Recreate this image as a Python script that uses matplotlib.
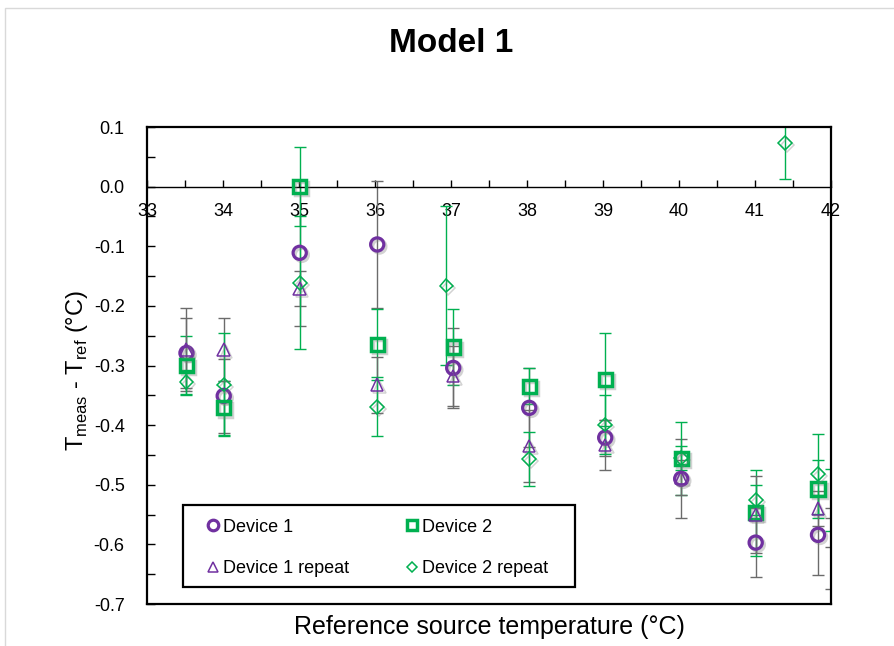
import matplotlib
matplotlib.use("Agg")
import matplotlib.pyplot as plt
import matplotlib.patheffects as pe
from matplotlib.lines import Line2D
from matplotlib.patches import Rectangle
from matplotlib.ticker import MultipleLocator, FuncFormatter
import numpy as np

plt.rcParams["font.family"] = ["Liberation Sans", "DejaVu Sans"]

# reference temperatures (last point lies just past the axis end, as in the original sheet)
x_dev = [33.52, 34.01, 35.01, 36.03, 37.03, 38.03, 39.03, 40.03, 41.01, 41.83, 42.3]
x_dev2r = [33.52, 34.01, 35.01, 36.03, 36.94, 38.03, 39.03, 40.03, 41.01, 41.40, 41.83]

dev1 = [-0.279, -0.351, -0.111, -0.097, -0.304, -0.371, -0.421, -0.490, -0.597, -0.584, -0.607]
dev1_err = [0.058, 0.062, 0.122, 0.107, 0.067, 0.066, 0.030, 0.066, 0.058, 0.067, 0.068]

dev2 = [-0.300, -0.371, 0.000, -0.265, -0.269, -0.335, -0.324, -0.456, -0.547, -0.507, -0.525]
dev2_err = [0.050, 0.045, 0.066, 0.060, 0.064, 0.030, 0.078, 0.062, 0.072, 0.048, 0.052]

dev1r = [-0.273, -0.273, -0.171, -0.332, -0.318, -0.435, -0.433, -0.488, -0.550, -0.540, -0.580]
dev1r_err = [0.070, 0.053, 0.030, 0.047, 0.050, 0.060, 0.042, 0.030, 0.065, 0.030, 0.025]

dev2r = [-0.328, -0.332, -0.161, -0.369, -0.166, -0.457, -0.399, -0.455, -0.525, 0.073, -0.482]
dev2r_err = [0.020, 0.087, 0.112, 0.050, 0.133, 0.045, 0.050, 0.020, 0.025, 0.061, 0.067]

PURPLE = "#7030A0"
GREEN = "#00B050"
GRAY = "#6b6b6b"
XMIN, XMAX = 33, 42

fig = plt.figure(figsize=(8.95, 6.46), dpi=100)
ax = fig.add_axes([0.1642, 0.0650, 0.7642, 0.7384])

shadow = [pe.SimpleLineShadow(offset=(1.5, -1.5), shadow_color="gray", alpha=0.35), pe.Normal()]

series = [
    (x_dev, dev1, dev1_err, "o", PURPLE, 2.3, 9.5, GRAY, "Device 1"),
    (x_dev, dev2, dev2_err, "s", GREEN, 2.5, 9.5, GREEN, "Device 2"),
    (x_dev, dev1r, dev1r_err, "^", PURPLE, 1.1, 9, GRAY, "Device 1 repeat"),
    (x_dev2r, dev2r, dev2r_err, "D", GREEN, 1.1, 7, GREEN, "Device 2 repeat"),
]

# error bars first (Excel keeps bars of off-scale points pinned to the plot edge)
for xs, ys, es, m, c, mew, ms, ecol, lab in series:
    xe = np.minimum(np.array(xs), XMAX)
    ax.errorbar(xe, ys, yerr=es, fmt="none", ecolor=ecol, elinewidth=1.0,
                capsize=4, capthick=1.0, zorder=2)

for xs, ys, es, m, c, mew, ms, ecol, lab in series:
    ax.plot(xs, ys, ls="none", marker=m, ms=ms, mfc="none", mec=c, mew=mew,
            zorder=3, path_effects=shadow)

ax.set_xlim(XMIN, XMAX)
ax.set_ylim(-0.7, 0.1)

ax.spines["bottom"].set_position(("data", 0))
ax.spines["bottom"].set_linewidth(1.0)
for s in ["left", "top", "right"]:
    ax.spines[s].set_linewidth(1.6)
ax.add_line(Line2D([0, 1], [0, 0], transform=ax.transAxes, color="black", lw=1.6, clip_on=False))

ax.xaxis.set_major_locator(MultipleLocator(1))
ax.xaxis.set_minor_locator(MultipleLocator(0.5))
ax.yaxis.set_major_locator(MultipleLocator(0.1))
ax.yaxis.set_minor_locator(MultipleLocator(0.05))
ax.yaxis.set_major_formatter(FuncFormatter(lambda v, p: f"{v:.1f}".replace("-0.0", "0.0")))
ax.xaxis.set_major_formatter(FuncFormatter(lambda v, p: f"{v:.0f}"))

ax.tick_params(axis="x", which="both", direction="in", length=5, width=1, labelsize=13, pad=12)
ax.tick_params(axis="y", which="both", direction="in", length=6, width=1, labelsize=13, pad=16)

ax.set_xlabel("Reference source temperature (°C)", fontsize=18)
ax.xaxis.set_label_coords(0.5, -0.022)
ax.set_ylabel(r"T$_{\mathregular{meas}}$ - T$_{\mathregular{ref}}$ (°C)", fontsize=17)
ax.yaxis.set_label_coords(-0.084, 0.49)

fig.text(0.504, 0.932, "Model 1", ha="center", va="center", fontsize=24, fontweight="bold")

# legend: entries without frame, box drawn separately to match the Excel layout
handles = [Line2D([], [], ls="none", marker=m, ms=ms * 0.8, mfc="none", mec=c, mew=mew)
           for xs, ys, es, m, c, mew, ms, ecol, lab in series]
labels = [s[-1] for s in series]
order = [0, 2, 1, 3]
leg = ax.legend([handles[i] for i in order], [labels[i] for i in order], ncol=2,
                loc="upper left", bbox_to_anchor=(0.089, 0.179),
                fontsize=13, frameon=False, handlelength=0.6,
                handletextpad=0.25, labelspacing=1.35, borderpad=0, borderaxespad=0,
                columnspacing=3.2)
ax.add_patch(Rectangle((0.0526, 0.0356), 0.573, 0.172, transform=ax.transAxes,
                       fill=False, edgecolor="black", lw=1.6, zorder=5))

fig.add_artist(Rectangle((5 / 895, -0.1), 1.2, 1.1 - 8 / 646, transform=fig.transFigure,
                         fill=False, edgecolor="#d9d9d9", lw=1))

fig.savefig("out.png", dpi=100)
